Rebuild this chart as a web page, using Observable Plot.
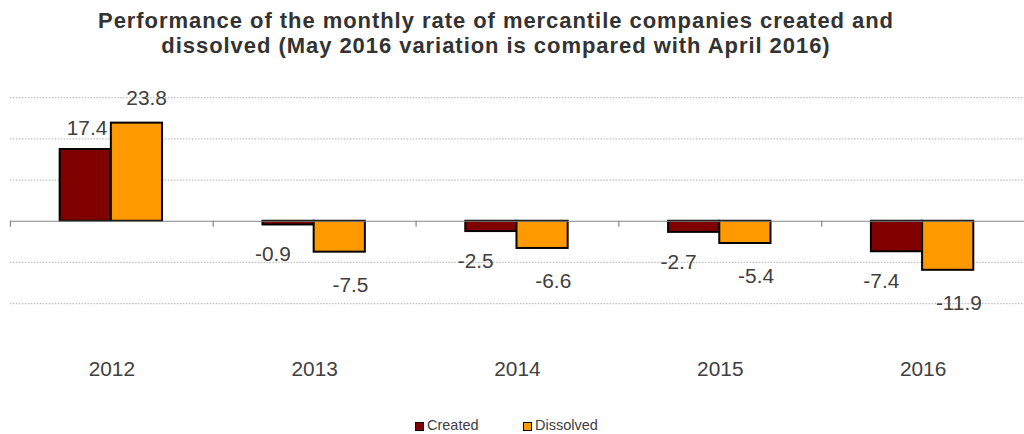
<!DOCTYPE html>
<html>
<head>
<meta charset="utf-8">
<script src="https://cdn.jsdelivr.net/npm/d3@7"></script>
<script src="https://cdn.jsdelivr.net/npm/@observablehq/plot@0.6"></script>
<style>
  html, body { margin: 0; padding: 0; background: #fff; overflow: hidden; width: 1024px; height: 434px; }
  body { font-family: "Liberation Sans", Arial, sans-serif; position: relative; }
  #title { position: absolute; left: 0; top: 7.7px; width: 992px; text-align: center; font-weight: bold; font-size: 22px; letter-spacing: 0.95px; line-height: 25px; color: #333333; }
  #chart { position: absolute; left: 0; top: 60px; }
  .lg { position: absolute; top: 417px; font-size: 14.5px; line-height: 17px; color: #404040; white-space: nowrap; }
  .sw { position: absolute; top: 4.5px; width: 9px; height: 9px; box-sizing: border-box; border: 1.6px solid #000; }
</style>
</head>
<body>
<div id="title">Performance of the monthly rate of mercantile companies created and<br>dissolved (May 2016 variation is compared with April 2016)</div>
<div id="chart"></div>
<div class="lg" style="left:415px"><span class="sw" style="left:0;background:#800000"></span><span style="margin-left:12px">Created</span></div>
<div class="lg" style="left:523px"><span class="sw" style="left:0;background:#FF9900"></span><span style="margin-left:12px">Dissolved</span></div>
<script>
const years = ["2012", "2013", "2014", "2015", "2016"];
const created = [17.4, -0.9, -2.5, -2.7, -7.4];
const dissolved = [23.8, -7.5, -6.6, -5.4, -11.9];
const gridValues = [-20, -10, 10, 20, 30];
const seriesNames = ["Created", "Dissolved"];
const seriesColors = ["#800000", "#FF9900"];

const createdRows = years.map((y, i) => ({year: y, value: created[i], series: seriesNames[0]}));
const dissolvedRows = years.map((y, i) => ({year: y, value: dissolved[i], series: seriesNames[1]}));

const W = 1030, left = 10;
const step = (W - left) / years.length;
const barW = 51.5, outer = 50;
const fmt = d => d.value.toFixed(1);
const labelStyle = {x: "year", y: "value", text: fmt, fontSize: 21, fill: "#404040", lineAnchor: "middle"};

const chart = Plot.plot({
  width: W,
  height: 340,
  marginTop: 37.3,
  marginBottom: 53.9,
  marginLeft: left,
  marginRight: 0,
  style: {fontFamily: "Liberation Sans, Arial, sans-serif", color: "#404040", background: "transparent", overflow: "visible"},
  x: {domain: years, padding: 0, axis: null},
  y: {domain: [-30, 30], axis: null},
  marks: [
    Plot.ruleY(gridValues, {stroke: "#bfbfbf", strokeWidth: 1.3, strokeDasharray: "1.5,1.5"}),
    Plot.barY(createdRows, {x: "year", y: "value", fill: seriesColors[0], stroke: "#000", strokeWidth: 2,
      insetLeft: outer, insetRight: step - outer - barW}),
    Plot.barY(dissolvedRows, {x: "year", y: "value", fill: seriesColors[1], stroke: "#000", strokeWidth: 2,
      insetLeft: outer + barW, insetRight: step - outer - 2 * barW}),
    Plot.ruleY([0], {stroke: "#868686", strokeWidth: 1.2}),
    Plot.ruleX(years, {x: d => d, y1: 0, y2: 0, insetBottom: -6, dx: -step / 2, stroke: "#868686", strokeWidth: 1.2}),
    Plot.text(createdRows, {...labelStyle, filter: d => d.value >= 0, dx: -25, dy: -21}),
    Plot.text(createdRows, {...labelStyle, filter: d => d.value < 0, dx: -42, dy: 30}),
    Plot.text(dissolvedRows, {...labelStyle, filter: d => d.value >= 0, dx: 35, dy: -25}),
    Plot.text(dissolvedRows, {...labelStyle, filter: d => d.value < 0, dx: 36, dy: 33}),
    Plot.axisX({domain: years, tickSize: 0, tickPadding: 16, fontSize: 21, label: null, fill: "#404040"})
  ]
});
document.getElementById("chart").append(chart);
</script>
</body>
</html>
